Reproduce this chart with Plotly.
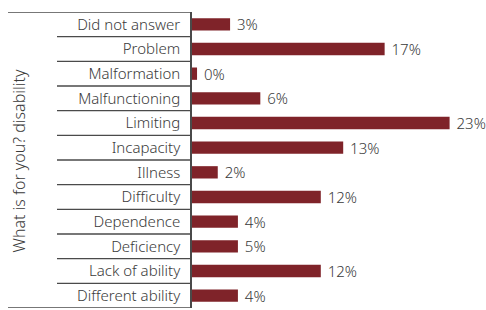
import plotly.graph_objects as go

categories = ["Did not answer", "Problem", "Malformation", "Malfunctioning", "Limiting",
              "Incapacity", "Illness", "Difficulty", "Dependence", "Deficiency",
              "Lack of ability", "Different ability"]
values = [3.4, 17.2, 0.45, 6.1, 23.0, 13.5, 2.3, 11.5, 4.1, 4.1, 11.5, 4.1]
labels = ["3%", "17%", "0%", "6%", "23%", "13%", "2%", "12%", "4%", "5%", "12%", "4%"]

W, H = 486, 310
ml, mr, mt, mb = 192, 0, 12, 2
pw = W - ml - mr
px_per_unit = 11.2
xmax = pw / px_per_unit

font_family = "Noto Sans, Open Sans, sans-serif"
text_color = "#3a3a3a"
bar_color = "#7f2329"
line_color = "#4a4a4a"
fs = 15

fig = go.Figure(go.Bar(
    y=categories, x=values, orientation="h",
    marker=dict(color=bar_color, line=dict(width=0)),
    text=labels, texttemplate=" %{text}", textposition="outside",
    cliponaxis=False, constraintext="none",
    textfont=dict(family=font_family, size=fs, color=text_color, weight=300),
    width=0.5,
))

def px_x(p):
    return (p - ml) / pw

shapes = []
n = len(categories)
for i in range(1, n):
    shapes.append(dict(type="line", xref="paper", yref="y",
                       x0=px_x(57), x1=0, y0=i - 0.5, y1=i - 0.5,
                       line=dict(color=line_color, width=1.3)))
for yv in [-0.5, n - 0.5]:
    shapes.append(dict(type="line", xref="paper", yref="y",
                       x0=px_x(8), x1=0, y0=yv, y1=yv,
                       line=dict(color=line_color, width=1.3)))

fig.update_layout(
    width=W, height=H,
    margin=dict(l=ml, r=mr, t=mt, b=mb, pad=0, autoexpand=False),
    paper_bgcolor="white", plot_bgcolor="white",
    showlegend=False,
    bargap=0.5,
    font=dict(family=font_family, color=text_color, size=fs),
    xaxis=dict(range=[0, xmax], visible=False, fixedrange=True),
    yaxis=dict(range=[n - 0.5, -0.5], autorange=False, showline=True, linecolor=line_color,
               linewidth=1.5, ticks="", showgrid=False, zeroline=False,
               ticklabelstandoff=7, automargin=False,
               tickfont=dict(family=font_family, size=fs, color=text_color, weight=300)),
    shapes=shapes,
    annotations=[dict(text="What is for you? disability", xref="paper", yref="paper",
                      x=px_x(18.5), y=(161 - 308) / -296, xanchor="center", yanchor="middle",
                      textangle=-90, showarrow=False,
                      font=dict(family=font_family, size=16, color=text_color, weight=300))],
)

fig.write_html("out.html", config={"displayModeBar": False},
               post_script="document.body.style.margin='0';")
